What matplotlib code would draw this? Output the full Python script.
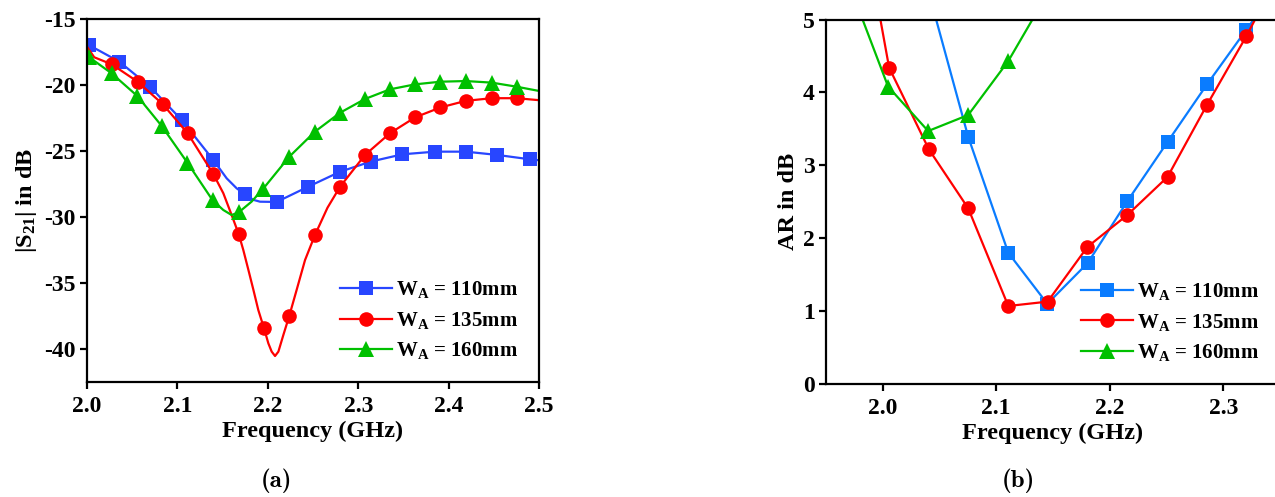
import os
import numpy as np
import matplotlib
matplotlib.use("Agg")
import matplotlib.pyplot as plt
from matplotlib.font_manager import FontProperties

# ---------------- data ----------------
# (a) |S21| versus frequency; marker samples
s21_f_110 = [2.002, 2.0357, 2.0697, 2.1047, 2.1397, 2.1748, 2.2098, 2.2448, 2.280, 2.314, 2.349, 2.385, 2.419, 2.454, 2.490]
s21_v_110 = [-16.97, -18.23, -20.13, -22.65, -25.68, -28.28, -28.86, -27.70, -26.57, -25.80, -25.25, -25.05, -25.05, -25.30, -25.63]
# extra trace vertices between the markers
s21_fx_110 = [2.1545, 2.1656, 2.184, 2.1914, 2.500]
s21_vx_110 = [-27.07, -27.83, -28.70, -28.84, -25.70]

s21_f_135 = [2.0273, 2.056, 2.0836, 2.1114, 2.1397, 2.1678, 2.1958, 2.2238, 2.2522, 2.280, 2.3075, 2.335, 2.363, 2.391, 2.419, 2.4477, 2.4753]
s21_v_135 = [-18.43, -19.75, -21.44, -23.66, -26.74, -31.29, -38.43, -37.48, -31.36, -27.70, -25.30, -23.66, -22.45, -21.70, -21.20, -21.00, -21.00]
s21_fx_135 = [2.000, 2.008, 2.1508, 2.160, 2.1729, 2.1785, 2.184, 2.1895, 2.2006, 2.2043, 2.208,
              2.2117, 2.2172, 2.232, 2.2412, 2.2660, 2.500]
s21_vx_135 = [-17.10, -17.90, -28.20, -29.85, -32.50, -34.00, -35.50, -37.05, -39.57, -40.20, -40.53,
              -40.20, -38.94, -35.50, -33.26, -29.30, -21.15]

s21_f_160 = [2.0025, 2.0273, 2.0556, 2.0826, 2.111, 2.139, 2.1678, 2.195, 2.2238, 2.2522, 2.280, 2.3075, 2.335, 2.363, 2.391, 2.419, 2.4477, 2.4753]
s21_v_160 = [-17.90, -19.12, -20.83, -23.10, -25.88, -28.74, -29.65, -27.85, -25.43, -23.53, -22.10, -21.06, -20.33, -19.95, -19.75, -19.70, -19.82, -20.13]
s21_fx_160 = [2.1508, 2.160, 2.182, 2.500]
s21_vx_160 = [-29.47, -29.85, -28.84, -20.45]

# (b) axial ratio versus frequency
ar_f_110 = [2.040, 2.0753, 2.1106, 2.145, 2.1806, 2.2156, 2.2509, 2.2857, 2.3203, 2.355]
ar_v_110 = [5.40, 3.39, 1.80, 1.10, 1.66, 2.51, 3.32, 4.11, 4.86, 5.60]

ar_f_135 = [1.970, 2.0056, 2.0406, 2.0753, 2.1106, 2.1453, 2.1803, 2.2156, 2.2509, 2.2857, 2.3203, 2.355]
ar_v_135 = [7.40, 4.34, 3.22, 2.41, 1.07, 1.13, 1.88, 2.32, 2.84, 3.83, 4.77, 5.80]

ar_f_160 = [1.970, 2.0047, 2.040, 2.0753, 2.1106, 2.145]
ar_v_160 = [5.50, 4.08, 3.47, 3.69, 4.43, 5.35]

labels = ["W$_{\\mathrm{A}}$ = 110mm", "W$_{\\mathrm{A}}$ = 135mm", "W$_{\\mathrm{A}}$ = 160mm"]
freq_ticks_a = [2.0, 2.1, 2.2, 2.3, 2.4, 2.5]
s21_ticks = [-15, -20, -25, -30, -35, -40]
freq_ticks_b = [2.0, 2.1, 2.2, 2.3]
ar_ticks = [0, 1, 2, 3, 4, 5]

# ---------------- style ----------------
plt.rcParams["font.family"] = ["Liberation Serif", "DejaVu Serif"]
plt.rcParams["font.weight"] = "bold"
plt.rcParams["mathtext.fontset"] = "custom"
plt.rcParams["mathtext.rm"] = "Liberation Serif:bold"
plt.rcParams["mathtext.it"] = "Liberation Serif:bold"
plt.rcParams["mathtext.bf"] = "Liberation Serif:bold"
plt.rcParams["axes.linewidth"] = 1.6

cm_bold = FontProperties(fname=os.path.join(matplotlib.get_data_path(), "fonts", "ttf", "cmb10.ttf"), size=18)

fig = plt.figure(figsize=(12.75, 4.97), dpi=100)
ax1 = fig.add_axes([87 / 1275, 1 - 382 / 497, (539 - 87) / 1275, (382 - 19) / 497])
ax2 = fig.add_axes([826 / 1275, 1 - 384 / 497, (1280 - 826) / 1275, (384 - 19.5) / 497])

BLUE_A = "#2846ff"
BLUE_B = "#0a7cff"
RED = "#ff0000"
GREEN = "#00c000"


def trace(f_mark, v_mark, f_extra, v_extra):
    f = np.array(list(f_mark) + list(f_extra))
    v = np.array(list(v_mark) + list(v_extra))
    is_mark = np.array([True] * len(f_mark) + [False] * len(f_extra))
    order = np.argsort(f)
    return f[order], v[order], list(np.where(is_mark[order])[0])


series_a = [
    (s21_f_110, s21_v_110, s21_fx_110, s21_vx_110, BLUE_A, "s", 9.5),
    (s21_f_135, s21_v_135, s21_fx_135, s21_vx_135, RED, "o", 10.5),
    (s21_f_160, s21_v_160, s21_fx_160, s21_vx_160, GREEN, "^", 11),
]
for (fm, vm, fx, vx, col, mk, ms), lab in zip(series_a, labels):
    f, v, idx = trace(fm, vm, fx, vx)
    ax1.plot(f, v, color=col, lw=1.6, marker=mk, ms=ms, markevery=idx,
             markeredgewidth=0, label=lab, solid_joinstyle="round")

series_b = [
    (ar_f_110, ar_v_110, BLUE_B, "s", 9.5),
    (ar_f_135, ar_v_135, RED, "o", 10.5),
    (ar_f_160, ar_v_160, GREEN, "^", 11),
]
for (f, v, col, mk, ms), lab in zip(series_b, labels):
    ax2.plot(f, v, color=col, lw=1.6, marker=mk, ms=ms, markeredgewidth=0, label=lab)

ax1.set_xlim(2.0, 2.5)
ax1.set_ylim(-42.5, -15)
ax1.set_xticks(freq_ticks_a)
ax1.set_xticklabels([f"{t:.1f}" for t in freq_ticks_a])
ax1.set_yticks(s21_ticks)
ax1.set_yticklabels([str(t) for t in s21_ticks])

ax2.set_xlim(1.95, 2.35)
ax2.set_ylim(0, 5)
ax2.set_xticks(freq_ticks_b)
ax2.set_xticklabels([f"{t:.1f}" for t in freq_ticks_b])
ax2.set_yticks(ar_ticks)
ax2.set_yticklabels([str(t) for t in ar_ticks])

for ax in (ax1, ax2):
    ax.tick_params(direction="out", length=5, width=1.6, labelsize=17)
    ax.tick_params(axis="x", pad=5)
    ax.tick_params(axis="y", pad=3)
    for lab in ax.get_xticklabels() + ax.get_yticklabels():
        lab.set_fontweight("bold")
    ax.set_xlabel("Frequency (GHz)", fontsize=17.5, fontweight="bold", labelpad=3)
    ax.legend(loc="lower right", frameon=False, fontsize=15, handlelength=2.5,
              handletextpad=0.2, labelspacing=0.45, borderaxespad=0.6)

ax1.set_ylabel("|S$_{\\mathrm{21}}$| in dB", fontsize=17.5, fontweight="bold", labelpad=4)
ax2.set_ylabel("AR in dB", fontsize=17.5, fontweight="bold", labelpad=3)

fig.text(276 / 1275, 1 - 481 / 497, "(a)", ha="center", va="center", fontproperties=cm_bold)
fig.text(1018 / 1275, 1 - 481 / 497, "(b)", ha="center", va="center", fontproperties=cm_bold)

fig.savefig("out.png", dpi=100)
